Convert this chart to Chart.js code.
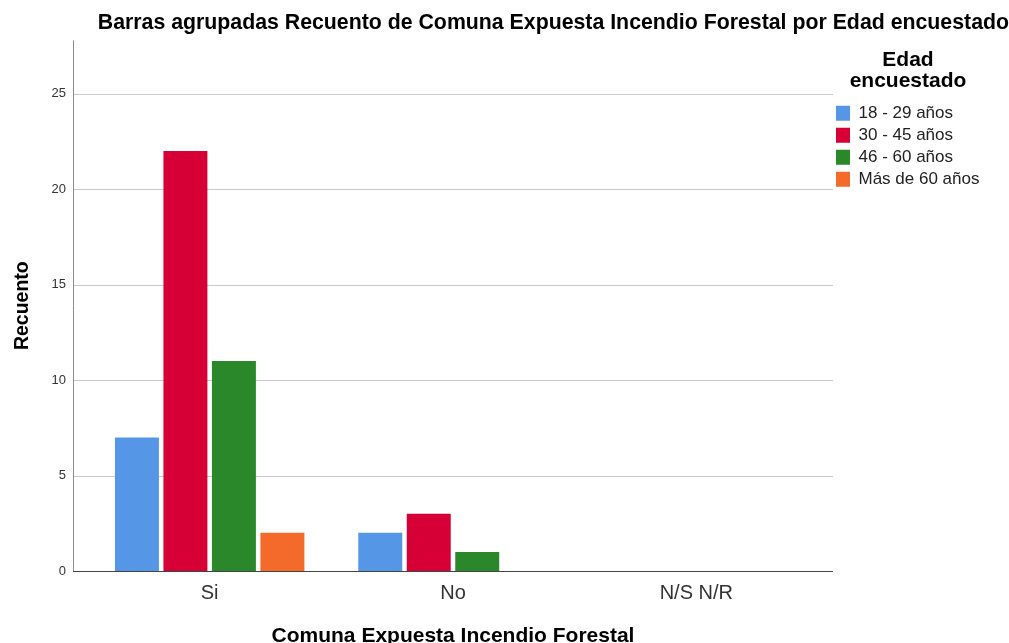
<!DOCTYPE html>
<html>
<head>
<meta charset="utf-8">
<script src="https://cdn.jsdelivr.net/npm/chart.js@4/dist/chart.umd.min.js"></script>
<style>
  html, body { margin: 0; padding: 0; background: #ffffff; }
  #wrap { width: 1009px; height: 643px; }
</style>
</head>
<body>
<div id="wrap"><canvas id="c" width="1009" height="643"></canvas></div>
<script>
// ---- data ----
const categories = ['Si', 'No', 'N/S N/R'];
const seriesLabels = ['18 - 29 años', '30 - 45 años', '46 - 60 años', 'Más de 60 años'];
const edad18a29 = [7, 2, 0];
const edad30a45 = [22, 3, 0];
const edad46a60 = [11, 1, 0];
const edadMas60 = [2, 0, 0];
const seriesColors = ['#5597E6', '#D60036', '#2A872A', '#F36A2A'];
const chartTitle = 'Barras agrupadas Recuento de Comuna Expuesta Incendio Forestal por Edad encuestado';
const xTitle = 'Comuna Expuesta Incendio Forestal';
const yTitle = 'Recuento';
const legendTitle = ['Edad', 'encuestado'];
const yMax = 27.8;
const yStep = 5;

const seriesValues = [edad18a29, edad30a45, edad46a60, edadMas60];

Chart.defaults.font.family = "'Liberation Sans', Arial, sans-serif";

const EXT = 15; // axis extension beyond category band

const framePlugin = {
  id: 'frame',
  beforeLayout(chart) {
    const lg = chart.legend;
    if (lg && !lg._patched) {
      const f = lg.fit;
      lg.fit = function () { f.call(this); this.width = 191; };
      lg._patched = true;
    }
  },
  afterLayout(chart) {
    const lg = chart.legend;
    if (lg) {
      lg.left = chart.chartArea.right + 13;
      lg.width = 154;
      lg.right = lg.left + lg.width;
      lg.top = chart.chartArea.top;
    }
  },
  beforeDatasetsDraw(chart) {
    const ctx = chart.ctx;
    const a = chart.chartArea;
    const ys = chart.scales.y;
    const L = a.left - EXT, R = a.right + EXT;
    ctx.save();
    ctx.lineWidth = 1;
    ctx.strokeStyle = '#c8c8c8';
    ys.ticks.forEach(t => {
      if (t.value === 0) return;
      const py = Math.round(ys.getPixelForValue(t.value)) + 0.5;
      ctx.beginPath(); ctx.moveTo(L, py); ctx.lineTo(R, py); ctx.stroke();
    });
    ctx.strokeStyle = '#8a8a8a';
    ctx.beginPath(); ctx.moveTo(L + 0.5, a.top); ctx.lineTo(L + 0.5, a.bottom); ctx.stroke();
    ctx.restore();
  },
  afterDatasetsDraw(chart) {
    const ctx = chart.ctx;
    const a = chart.chartArea;
    const L = a.left - EXT, R = a.right + EXT;
    ctx.save();
    ctx.lineWidth = 1;
    ctx.strokeStyle = '#444444';
    const py = Math.round(chart.scales.y.getPixelForValue(0)) + 0.5;
    ctx.beginPath(); ctx.moveTo(L, py); ctx.lineTo(R, py); ctx.stroke();
    ctx.restore();
  }
};

new Chart(document.getElementById('c'), {
  type: 'bar',
  data: {
    labels: categories,
    datasets: seriesLabels.map((lab, i) => ({
      label: lab,
      data: seriesValues[i],
      backgroundColor: seriesColors[i],
      borderWidth: 0,
      barPercentage: 0.907,
      categoryPercentage: 0.797
    }))
  },
  options: {
    responsive: false,
    animation: false,
    devicePixelRatio: 1,
    layout: { padding: 0 },
    plugins: {
      tooltip: { enabled: false },
      title: {
        display: true,
        text: chartTitle,
        align: 'end',
        color: '#000',
        font: { size: 21.3, weight: 'bold' },
        padding: { top: 10, bottom: 4.8 }
      },
      legend: {
        display: true,
        position: 'right',
        align: 'start',
        fullSize: false,
        title: {
          display: true,
          text: legendTitle,
          color: '#000',
          font: { size: 21, weight: 'bold', lineHeight: 1 },
          padding: { top: 9.5, bottom: 29 }
        },
        labels: {
          boxWidth: 14,
          boxHeight: 15,
          padding: 5,
          color: '#222',
          font: { size: 17 }
        }
      }
    },
    scales: {
      x: {
        offset: true,
        grid: { display: false, drawTicks: false },
        border: { display: false },
        ticks: { color: '#333', font: { size: 20 }, padding: 10 },
        title: {
          display: true,
          text: xTitle,
          color: '#000',
          font: { size: 21, weight: 'bold' },
          padding: { top: 0, bottom: -6 }
        },
        afterFit(s) { s.height = 72; }
      },
      y: {
        min: 0,
        max: yMax,
        grid: { display: false, drawTicks: false },
        border: { display: false },
        ticks: { stepSize: yStep, includeBounds: false, color: '#333', font: { size: 13 }, padding: 22 },
        title: {
          display: true,
          text: yTitle,
          color: '#000',
          font: { size: 19.5, weight: 'bold' },
          padding: { top: 10.5, bottom: 0 }
        },
        afterFit(s) { s.width = 88; }
      }
    }
  },
  plugins: [framePlugin]
});
</script>
</body>
</html>
